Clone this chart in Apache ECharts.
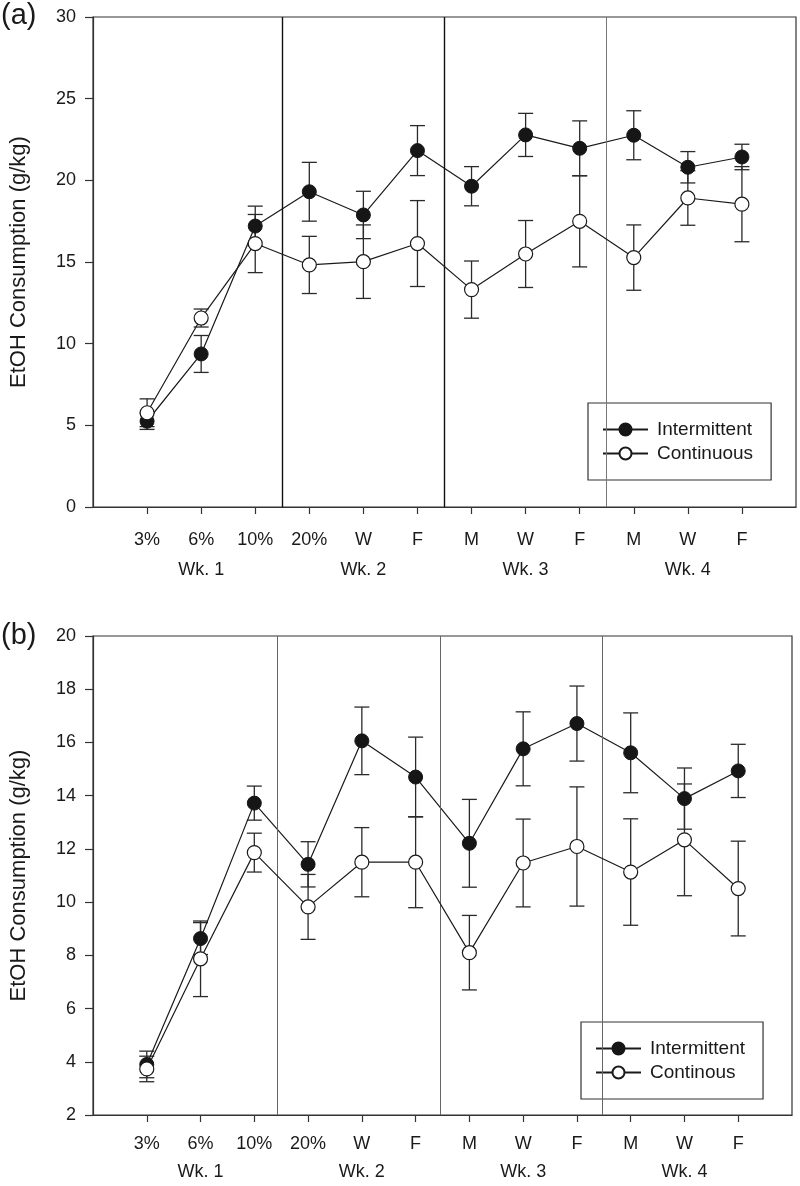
<!DOCTYPE html>
<html>
<head>
<meta charset="utf-8">
<script src="https://cdn.jsdelivr.net/npm/echarts@6/dist/echarts.min.js"></script>
<style>
  html, body { margin: 0; padding: 0; background: #fff; }
  #chart { width: 800px; height: 1186px; }
</style>
</head>
<body>
<div id="chart"></div>
<script>
// ---------- DATA ----------
const categories = ['3%', '6%', '10%', '20%', 'W', 'F', 'M', 'W', 'F', 'M', 'W', 'F'];
const weekLabels = ['Wk. 1', 'Wk. 2', 'Wk. 3', 'Wk. 4'];
const weekLabelCategory = [2, 5, 8, 11];        // category (1-based) under which each week label sits
const weekBoundariesA = [3.5, 6.5, 9.5];
const weekBoundariesB = [3.43, 6.46, 9.47];

// Panel (a)
const intermittentA    = [5.25, 9.37, 17.2, 19.3, 17.88, 21.82, 19.64, 22.78, 21.96, 22.76, 20.8, 21.43];
const intermittentAErr = [0.5, 1.13, 1.22, 1.8, 1.45, 1.53, 1.2, 1.32, 1.68, 1.5, 0.96, 0.78];
const continuousA      = [5.77, 11.57, 16.13, 14.82, 15.02, 16.13, 13.31, 15.49, 17.49, 15.27, 18.92, 18.54];
const continuousAErr   = [0.85, 0.55, 1.78, 1.75, 2.25, 2.63, 1.75, 2.05, 2.79, 2.0, 1.67, 2.3];

// Panel (b)
const intermittentB    = [3.9, 8.63, 13.72, 11.42, 16.06, 14.7, 12.21, 15.76, 16.71, 15.61, 13.89, 14.93];
const intermittentBErr = [0.5, 0.6, 0.64, 0.85, 1.27, 1.5, 1.65, 1.39, 1.41, 1.5, 1.15, 1.0];
const continuousB      = [3.73, 7.87, 11.86, 9.82, 11.5, 11.5, 8.1, 11.47, 12.09, 11.13, 12.34, 10.51];
const continuousBErr   = [0.48, 1.42, 0.73, 1.22, 1.3, 1.71, 1.4, 1.65, 2.24, 2.0, 2.1, 1.78];

const yTitle = 'EtOH Consumption (g/kg)';
const panelLetters = ['(a)', '(b)'];
const seriesNamesA = ['Intermittent', 'Continuous'];
const seriesNamesB = ['Intermittent', 'Continous'];

// ---------- HELPERS ----------
const FONT = '"Liberation Sans", Arial, sans-serif';
const INK = '#1a1a1a';
const AX = '#333';
const catPositions = categories.map((_, i) => i + 1);

function pts(vals) { return vals.map((v, i) => [i + 1, v]); }
function errs(vals, e) { return vals.map((v, i) => [i + 1, v - e[i], v + e[i]]); }

function labelFor(val) {
  const idx = Math.round(val) - 1;
  const w = weekLabelCategory.indexOf(idx + 1);
  return w >= 0 ? categories[idx] + '\n' + weekLabels[w] : categories[idx];
}

function errRender(params, api) {
  const x = api.value(0), lo = api.value(1), hi = api.value(2);
  const a = api.coord([x, hi]), b = api.coord([x, lo]);
  const hw = 7.5;
  const style = { stroke: '#2a2a2a', lineWidth: 1.3 };
  return {
    type: 'group',
    children: [
      { type: 'line', shape: { x1: a[0], y1: a[1], x2: b[0], y2: b[1] }, style },
      { type: 'line', shape: { x1: a[0] - hw, y1: a[1], x2: a[0] + hw, y2: a[1] }, style },
      { type: 'line', shape: { x1: b[0] - hw, y1: b[1], x2: b[0] + hw, y2: b[1] }, style }
    ]
  };
}

function xAxisFor(gridIndex, margin, lh) {
  return {
    type: 'value', gridIndex, min: 0, max: 13, interval: 1,
    splitLine: { show: false },
    axisLine: { show: true, onZero: false, lineStyle: { color: AX, width: 1.2 } },
    axisTick: { show: true, customValues: catPositions, length: 7, lineStyle: { color: AX, width: 1.2 } },
    axisLabel: {
      show: true, customValues: catPositions, formatter: labelFor,
      fontFamily: FONT, fontSize: 18, color: INK, margin, lineHeight: lh
    }
  };
}

function yAxisFor(gridIndex, min, max, interval) {
  return {
    type: 'value', gridIndex, min, max, interval,
    splitLine: { show: false },
    axisLine: { show: true, lineStyle: { color: AX, width: 1.2 } },
    axisTick: { show: true, length: 8, lineStyle: { color: AX, width: 1.2 } },
    axisLabel: { fontFamily: FONT, fontSize: 18, color: INK, margin: 17 },
    name: yTitle, nameLocation: 'middle', nameGap: 63, nameRotate: 90,
    nameTextStyle: { fontFamily: FONT, fontSize: 22, color: INK }
  };
}

function sepMarkLine(bounds, styles) {
  return {
    silent: true, symbol: 'none', label: { show: false }, animation: false,
    data: bounds.map((v, i) => ({ xAxis: v, lineStyle: styles[i] }))
  };
}

function lineSeries(name, data, idx, filled, markLine) {
  const s = {
    name, type: 'line', xAxisIndex: idx, yAxisIndex: idx, data,
    symbol: 'circle', symbolSize: 14, z: filled ? 4 : 5,
    lineStyle: { color: INK, width: 1.2 },
    itemStyle: filled ? { color: '#161616', borderColor: '#161616', borderWidth: 1 }
                      : { color: '#ffffff', borderColor: INK, borderWidth: 1.2 },
    emphasis: { disabled: true }
  };
  if (markLine) s.markLine = markLine;
  return s;
}

function errSeries(name, data, idx) {
  return {
    name: name + ' SEM', type: 'custom', xAxisIndex: idx, yAxisIndex: idx,
    data, renderItem: errRender, encode: { x: 0, y: [1, 2] }, z: 2, silent: true
  };
}

const legendBase = {
  orient: 'vertical', itemWidth: 45, itemHeight: 15, itemGap: 5,
  borderColor: '#333', borderWidth: 1.2, backgroundColor: '#fff',
  padding: [17, 18, 17, 14], selectedMode: false,
  textStyle: { fontFamily: FONT, fontSize: 19, color: INK, padding: [0, 0, 0, 4] }
};

const option = {
  animation: false,
  backgroundColor: '#fff',
  title: [
    { text: panelLetters[0], left: 1, top: 1, padding: 0, textStyle: { fontFamily: FONT, fontSize: 29, fontWeight: 'normal', color: INK } },
    { text: panelLetters[1], left: 1, top: 621, padding: 0, textStyle: { fontFamily: FONT, fontSize: 29, fontWeight: 'normal', color: INK } }
  ],
  legend: [
    Object.assign({}, legendBase, { left: 588, top: 403, data: seriesNamesA }),
    Object.assign({}, legendBase, { left: 581, top: 1022, data: seriesNamesB })
  ],
  grid: [
    { left: 88, top: 17, width: 708, height: 490, show: true, borderColor: AX, borderWidth: 1.2, containLabel: false },
    { left: 88, top: 636, width: 704, height: 487, show: true, borderColor: AX, borderWidth: 1.2, containLabel: false }
  ],
  xAxis: [xAxisFor(0, 18, 30), xAxisFor(1, 15, 28)],
  yAxis: [yAxisFor(0, 0, 30, 5), yAxisFor(1, 2, 20, 2)],
  series: [
    errSeries(seriesNamesA[0], errs(intermittentA, intermittentAErr), 0),
    errSeries(seriesNamesA[1], errs(continuousA, continuousAErr), 0),
    lineSeries(seriesNamesA[0], pts(intermittentA), 0, true, sepMarkLine(weekBoundariesA, [
      { color: '#111', width: 1.4, type: 'solid' },
      { color: '#111', width: 1.4, type: 'solid' },
      { color: '#777', width: 1, type: 'solid' }
    ])),
    lineSeries(seriesNamesA[1], pts(continuousA), 0, false),

    errSeries(seriesNamesB[0], errs(intermittentB, intermittentBErr), 1),
    errSeries(seriesNamesB[1], errs(continuousB, continuousBErr), 1),
    lineSeries(seriesNamesB[0], pts(intermittentB), 1, true, sepMarkLine(weekBoundariesB, [
      { color: '#666', width: 1, type: 'solid' },
      { color: '#666', width: 1, type: 'solid' },
      { color: '#666', width: 1, type: 'solid' }
    ])),
    lineSeries(seriesNamesB[1], pts(continuousB), 1, false)
  ]
};

const chart = echarts.init(document.getElementById('chart'), null, { renderer: 'canvas' });
chart.setOption(option);
</script>
</body>
</html>
